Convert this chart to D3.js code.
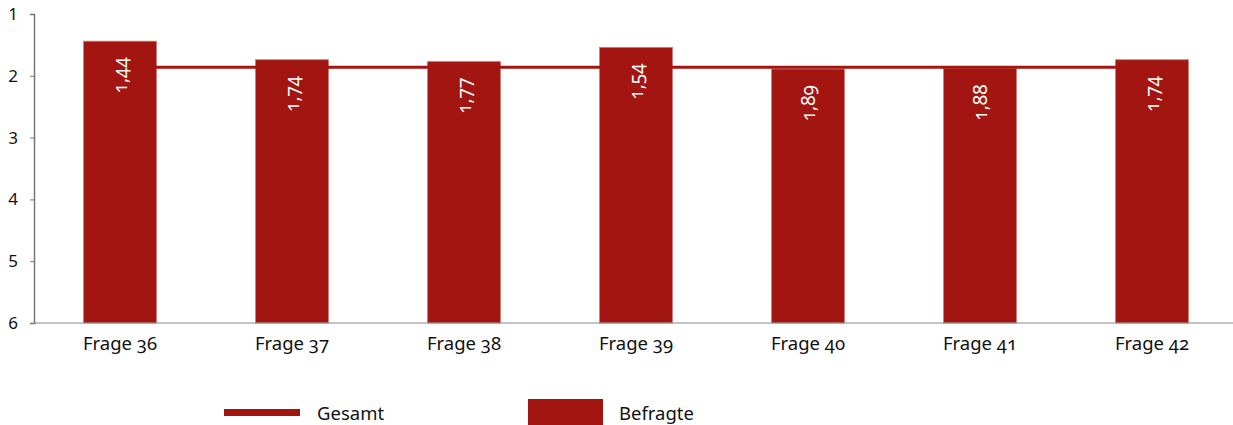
<!DOCTYPE html>
<html>
<head>
<meta charset="utf-8">
<script src="https://cdn.jsdelivr.net/npm/d3@7"></script>
<style>
  html, body { margin: 0; padding: 0; background: #fff; }
  svg { display: block; }
  svg text { font-family: "Noto Sans", "Lato", sans-serif; }
  .onum { font-variant-numeric: oldstyle-nums; font-feature-settings: "onum" 1; }
</style>
</head>
<body>
<svg id="chart" width="1233" height="425"></svg>
<script>
// Mean grades per question (1 = best, 6 = worst)
const categories = ["Frage 36", "Frage 37", "Frage 38", "Frage 39", "Frage 40", "Frage 41", "Frage 42"];
const befragte = [1.44, 1.74, 1.77, 1.54, 1.89, 1.88, 1.74];
const gesamt = [1.86, 1.86, 1.86, 1.86, 1.86, 1.86, 1.86];
const yTicks = [1, 2, 3, 4, 5, 6];
const seriesNames = ["Gesamt", "Befragte"];

const red = "#a31510";
const svg = d3.select("#chart");

const x = d3.scaleBand()
  .domain(categories)
  .range([34, 1238])
  .paddingInner(0.576)
  .paddingOuter(0.288);

const y = d3.scaleLinear().domain([1, 6]).range([14, 323]);

const fmt = v => d3.format(".2f")(v).replace(".", ",");

// Bars rise from the bottom of the scale (6) up to the grade
svg.append("g").selectAll("rect")
  .data(befragte)
  .join("rect")
  .attr("x", (d, i) => x(categories[i]))
  .attr("y", d => y(d))
  .attr("width", x.bandwidth())
  .attr("height", d => y(6) - y(d))
  .attr("fill", red)
  .attr("stroke", "#d27a76")
  .attr("stroke-width", 0.8);

// Overall average line
const line = d3.line()
  .x((d, i) => x(categories[i]) + x.bandwidth() / 2)
  .y(d => y(d));
svg.append("path")
  .datum(gesamt)
  .attr("d", line)
  .attr("fill", "none")
  .attr("stroke", red)
  .attr("stroke-width", 3);

// Value labels inside the bars
svg.append("g").selectAll("text")
  .data(befragte)
  .join("text")
  .attr("class", "onum")
  .attr("transform", (d, i) => `translate(${x(categories[i]) + x.bandwidth() / 2},${y(d) + 16}) rotate(-90)`)
  .attr("text-anchor", "end")
  .attr("dominant-baseline", "central")
  .attr("fill", "#fff")
  .attr("font-size", 19)
  .text(d => fmt(d));

// Y axis
const yAxis = svg.append("g")
  .attr("transform", "translate(34,0)")
  .call(d3.axisLeft(y).tickValues(yTicks).tickSize(4).tickPadding(12).tickFormat(d3.format("d")));
yAxis.attr("font-family", null);
yAxis.select(".domain").attr("stroke", "#777").attr("stroke-width", 1.5);
yAxis.selectAll(".tick line").attr("stroke", "#777");
yAxis.selectAll(".tick text").attr("font-size", 17).attr("fill", "#111");

// X axis
const xAxis = svg.append("g")
  .attr("transform", `translate(0,${y(6)})`)
  .call(d3.axisBottom(x).tickSize(0).tickPadding(12));
xAxis.attr("font-family", null);
xAxis.select(".domain").attr("d", "M34,0H1233").attr("stroke", "#888").attr("stroke-width", 1.2);
xAxis.selectAll(".tick text")
  .attr("class", "onum")
  .attr("font-size", 18.5)
  .attr("fill", "#111")
  .attr("y", 27)
  .attr("dy", null);

// Legend
const legend = svg.append("g");
legend.append("rect").attr("x", 224).attr("y", 409).attr("width", 76).attr("height", 7).attr("fill", red);
legend.append("text").attr("x", 317).attr("y", 420).attr("font-size", 18.5).attr("fill", "#111").text(seriesNames[0]);
legend.append("rect").attr("x", 528).attr("y", 399).attr("width", 75).attr("height", 26).attr("fill", red);
legend.append("text").attr("x", 619).attr("y", 420).attr("font-size", 18.5).attr("fill", "#111").text(seriesNames[1]);
</script>
</body>
</html>
